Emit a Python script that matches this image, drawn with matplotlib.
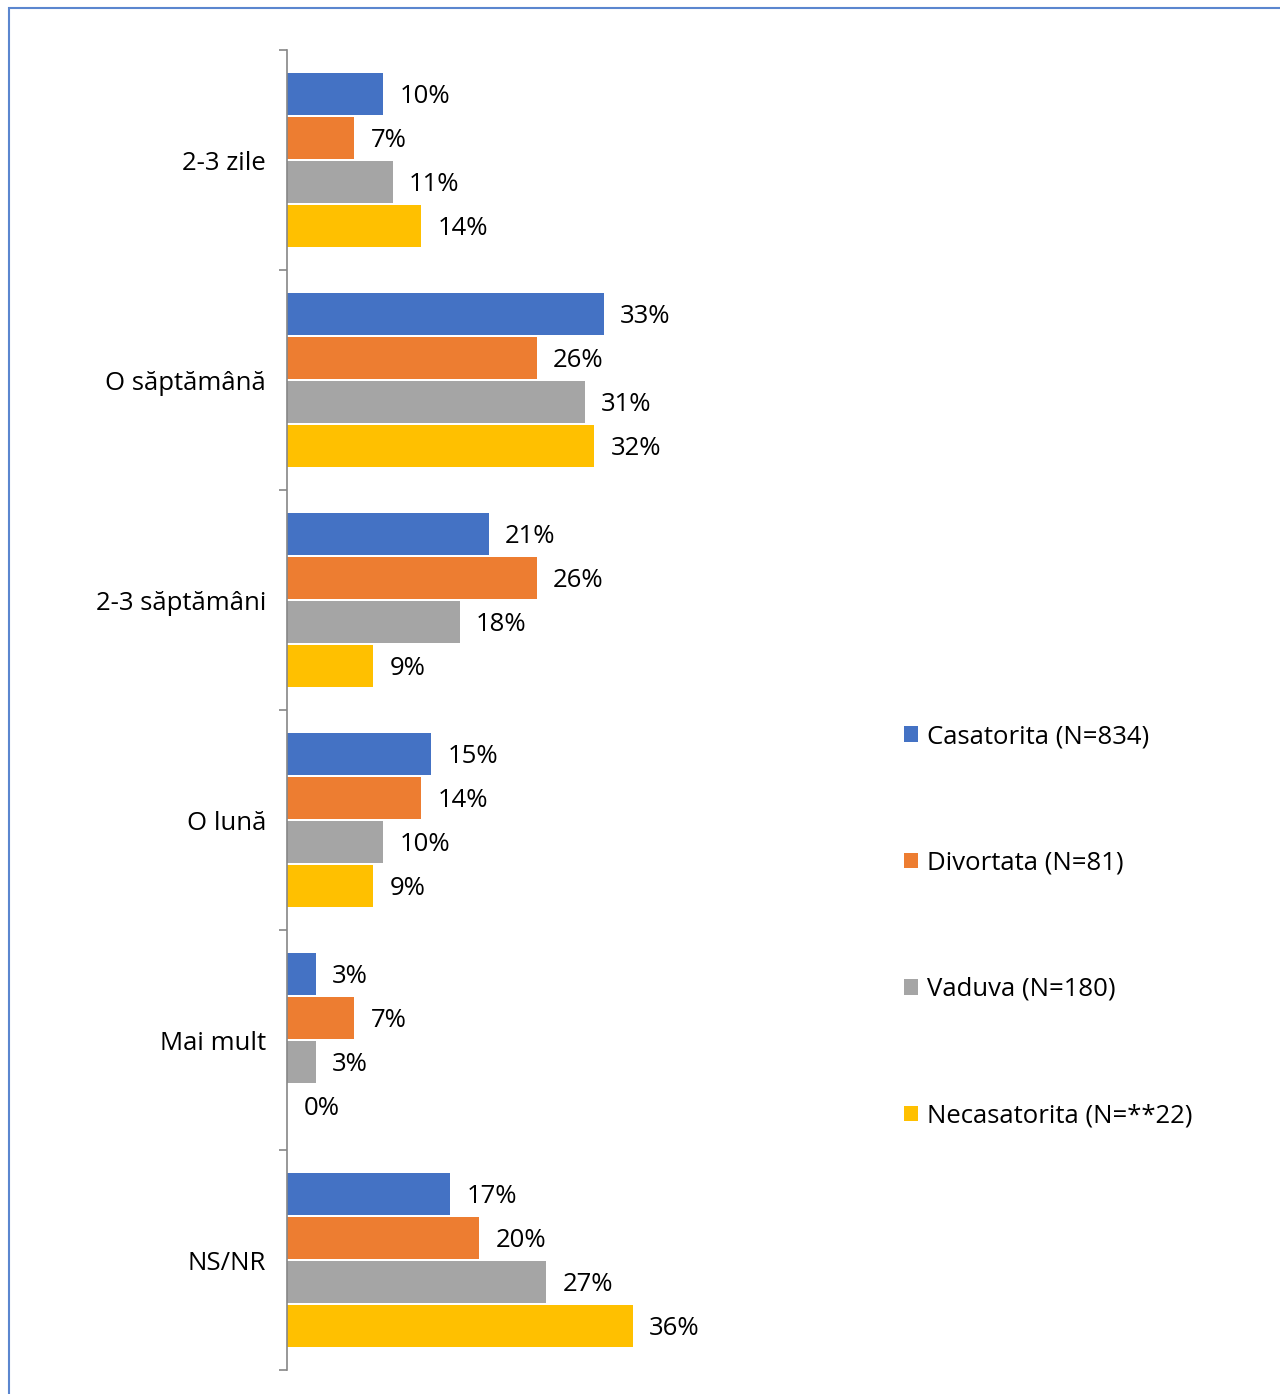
import matplotlib
matplotlib.use("Agg")
import matplotlib.pyplot as plt
from matplotlib.patches import Rectangle
import numpy as np

plt.rcParams['font.family'] = ['Open Sans', 'DejaVu Sans']

categories = ['2-3 zile', 'O săptămână', '2-3 săptămâni', 'O lună', 'Mai mult', 'NS/NR']
series = ['Casatorita (N=834)', 'Divortata (N=81)', 'Vaduva (N=180)', 'Necasatorita (N=**22)']
casatorita = [10, 33, 21, 15, 3, 17]
divortata = [7, 26, 26, 14, 7, 20]
vaduva = [11, 31, 18, 10, 3, 27]
necasatorita = [14, 32, 9, 9, 0, 36]
colors = ['#4472C4', '#ED7D31', '#A5A5A5', '#FFC000']

values = [casatorita, divortata, vaduva, necasatorita]
fs = 18.5

fig = plt.figure(figsize=(12.8, 13.94), dpi=100)
ax = fig.add_axes([287/1280, 1 - 1370/1394, 576/1280, 1320/1394])

y = np.arange(len(categories))
h = 0.2
for k, (vals, col, name) in enumerate(zip(values, colors, series)):
    pos = y + (k - 1.5) * h
    ax.barh(pos, vals, height=h * 0.955, color=col, label=name)
    for p, v in zip(pos, vals):
        ax.text(v + 1.7, p + 0.012, f'{v}%', va='center', ha='left', fontsize=fs)

ax.set_xlim(0, 60)
ax.set_ylim(len(categories) - 0.5, -0.5)
ax.set_yticks(y)
ax.set_yticklabels(categories, fontsize=fs)
ax.set_yticks(np.arange(-0.5, len(categories)), minor=True)
ax.tick_params(axis='y', which='major', length=0, pad=15)
ax.tick_params(axis='y', which='minor', length=6, color='#868686', width=1.2)
ax.set_xticks([])
for s in ['top', 'right', 'bottom']:
    ax.spines[s].set_visible(False)
ax.spines['left'].set_color('#868686')
ax.spines['left'].set_linewidth(1.2)

fig.legend(loc='upper left', bbox_to_anchor=(904/1280, 1 - 724/1394), frameon=False,
           fontsize=fs, handlelength=0.55, handleheight=0.55, handletextpad=0.35,
           labelspacing=3.95, borderaxespad=0, borderpad=0)

fig.patches.append(Rectangle((9/1280, -0.1), 1.2, 1 - 8/1394 + 0.1, transform=fig.transFigure,
                             fill=False, edgecolor='#5B86CF', linewidth=1.5))

fig.savefig('out.png', dpi=100)
